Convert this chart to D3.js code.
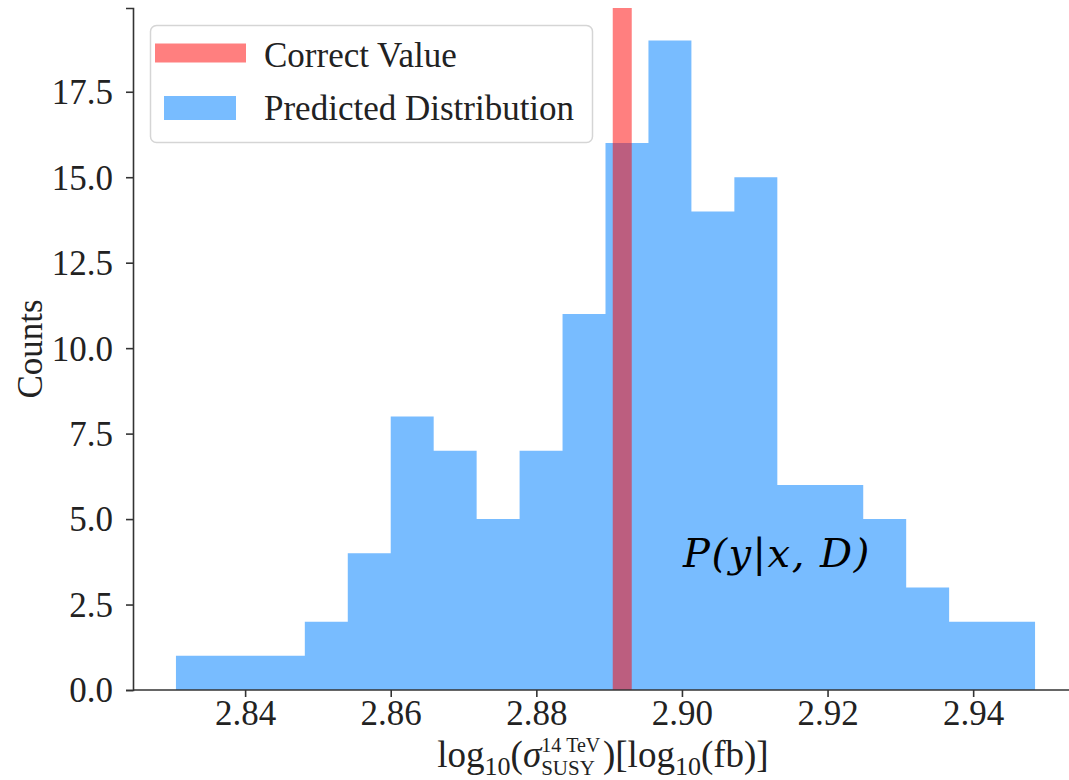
<!DOCTYPE html>
<html><head><meta charset="utf-8">
<script src="https://cdn.jsdelivr.net/npm/d3@7"></script>
<style>body{margin:0;background:#fff}svg{display:block}</style>
</head><body>
<svg id="c" width="1069" height="780"></svg>
<script>
// ---- data ----
const counts = [1,1,1,2,4,8,7,5,7,11,16,19,14,15,6,6,5,3,2,2];
const binRange = [2.8305, 2.9485];
const correctValue = 2.8918;
const xTickValues = [2.84, 2.86, 2.88, 2.90, 2.92, 2.94];
const xTickLabels = ["2.84","2.86","2.88","2.90","2.92","2.94"];
const yTickValues = [0, 2.5, 5, 7.5, 10, 12.5, 15, 17.5];
const yTickLabels = ["0.0","2.5","5.0","7.5","10.0","12.5","15.0","17.5"];
const legendLabels = ["Correct Value", "Predicted Distribution"];

(function(){
// ---- layout ----
const svg = d3.select("#c");
const mL = 133, mR = 1078, mT = 8, mB = 690;
const pad = (binRange[1]-binRange[0])*0.05;
const x = d3.scaleLinear().domain([binRange[0]-pad, binRange[1]+pad]).range([mL, mR]);
const y = d3.scaleLinear().domain([0, d3.max(counts)*1.05]).range([mB, mT]);
const bw = (binRange[1]-binRange[0])/counts.length;
const bins = counts.map((c,i)=>({x0: binRange[0]+i*bw, x1: binRange[0]+(i+1)*bw, c}));
const font = "'Liberation Serif','Times New Roman',serif";
const fs = 35;
const blue = "#1e90ff";

// bars (drawn as one step path so no seams)
const area = d3.area().curve(d3.curveStepAfter).x(d=>x(d[0])).y0(y(0)).y1(d=>y(d[1]));
const steps = bins.map(b=>[b.x0, b.c]).concat([[binRange[1], counts[counts.length-1]]]);
svg.append("path").datum(steps).attr("d", area)
  .attr("fill", blue).attr("fill-opacity", 0.6);

// correct value line
svg.append("line")
  .attr("x1", x(correctValue)).attr("x2", x(correctValue))
  .attr("y1", y.range()[1]).attr("y2", y.range()[0])
  .attr("stroke", "red").attr("stroke-opacity", 0.5).attr("stroke-width", 19);

// axes
const xAxis = d3.axisBottom(x).tickValues(xTickValues).tickFormat((d,i)=>xTickLabels[i]).tickSizeOuter(0).tickSize(7).tickPadding(8);
const yAxis = d3.axisLeft(y).tickValues(yTickValues).tickFormat((d,i)=>yTickLabels[i]).tickSizeOuter(0).tickSize(7).tickPadding(13);
const gx = svg.append("g").attr("transform", `translate(0,${mB})`).call(xAxis);
const gy = svg.append("g").attr("transform", `translate(${mL},0)`).call(yAxis);
gx.select(".domain").attr("d", `M${mL},0H1069`);
[gx, gy].forEach(g=>{
  g.selectAll(".domain").attr("stroke", "#333").attr("stroke-width", 1.6);
  g.selectAll(".tick line").attr("stroke", "#333").attr("stroke-width", 1.6);
  g.selectAll(".tick text").attr("font-family", font).attr("font-size", fs).attr("fill", "#222");
});
gy.selectAll(".tick text").attr("dy", "0.34em");
gx.selectAll(".tick text").attr("dy", "0.56em");

// y label
svg.append("text").attr("transform", `translate(42,${(mT+mB)/2}) rotate(-90)`)
  .attr("text-anchor", "middle").attr("font-family", font).attr("font-size", fs).attr("fill", "#222")
  .text("Counts");

// x label: one text element made of positioned tspans
const pieces = [
  {t:"log", s:37, dy:0},
  {t:"10", s:26, dy:8},
  {t:"(", s:37, dy:0},
  {t:"σ", s:37, dy:0, it:true},
  {stack:[{t:"14 TeV", s:20, dy:-15.5},{t:"SUSY", s:21, dy:8}]},
  {t:")[log", s:37, dy:0},
  {t:"10", s:26, dy:8},
  {t:"(fb)]", s:37, dy:0}
];
const lab = svg.append("text").attr("fill", "#222").attr("font-family", font);
function measure(p){
  const t = svg.append("text").attr("font-family", font).attr("font-size", p.s).attr("font-style", p.it?"italic":null).text(p.t);
  const w = t.node().getComputedTextLength(); t.remove(); return w;
}
let cx = 0; const placed = [];
pieces.forEach(p=>{
  if (p.stack){
    let wmax = 0;
    p.stack.forEach(q=>{ const w = measure(q); wmax = Math.max(wmax,w); placed.push({...q, x:cx}); });
    cx += wmax + 3;
  } else { const w = measure(p); placed.push({...p, x:cx}); cx += w; }
});
const startX = 603 - cx/2, baseY = 767;
placed.forEach(p=>{
  lab.append("tspan").attr("x", startX+p.x).attr("y", baseY+p.dy)
    .attr("font-size", p.s).attr("font-style", p.it?"italic":null).text(p.t);
});

// legend
const lg = svg.append("g");
lg.append("rect").attr("x", 150.5).attr("y", 25.5).attr("width", 442).attr("height", 117).attr("rx", 6)
  .attr("fill", "#fff").attr("fill-opacity", 0.8).attr("stroke", "#d5d5d5").attr("stroke-width", 1.5);
lg.append("line").attr("x1", 155).attr("x2", 246).attr("y1", 53).attr("y2", 53)
  .attr("stroke", "red").attr("stroke-opacity", 0.5).attr("stroke-width", 19);
lg.append("rect").attr("x", 164).attr("y", 96).attr("width", 72).attr("height", 24)
  .attr("fill", blue).attr("fill-opacity", 0.6);
lg.selectAll("text.l").data(legendLabels).join("text").attr("class","l")
  .attr("x", 264).attr("y", (d,i)=> i===0 ? 67 : 120)
  .attr("font-family", font).attr("font-size", fs).attr("fill", "#222").text(d=>d);

// annotation
svg.append("text").attr("x", 683).attr("y", 567)
  .attr("font-family", "'DejaVu Serif','Liberation Serif',serif").attr("font-style", "italic")
  .attr("font-size", 40).attr("letter-spacing", 1.5).attr("fill", "#000").text("P(y|x, D)");
})();
</script>
</body></html>
